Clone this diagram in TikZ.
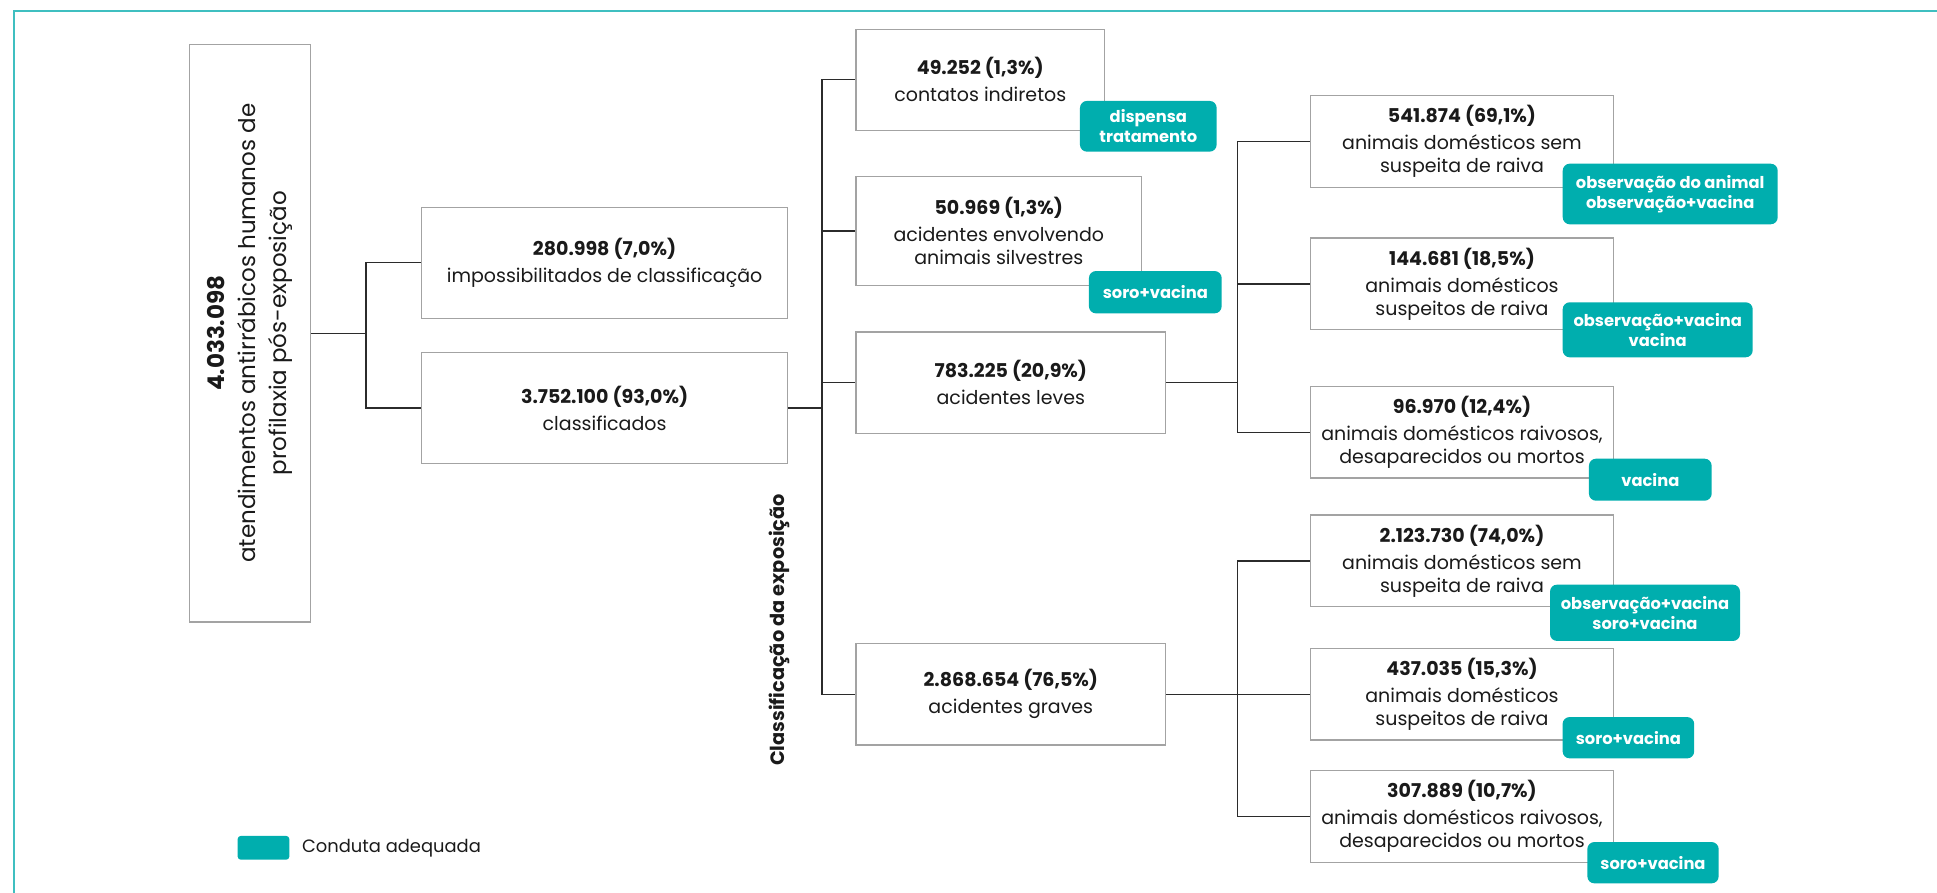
\documentclass[tikz,border=0pt]{standalone}
\usepackage{fontspec}
\setmainfont{Poppins}
\usetikzlibrary{positioning}

\definecolor{tealbadge}{HTML}{00AEAE}
\definecolor{tealframe}{HTML}{3FBFC0}
\definecolor{boxgray}{HTML}{A3A3A3}
\definecolor{linkgray}{HTML}{2B2B2B}
\definecolor{txtblack}{HTML}{1A1A1A}

\tikzset{
  catbox/.style={draw=boxgray, line width=1.4pt, fill=white, align=center,
    inner sep=2pt, text=txtblack, font={\fontsize{19}{23}\selectfont}},
  badge/.style={fill=tealbadge, rounded corners=7pt, text=white, align=center,
    inner sep=2pt, font={\bfseries\fontsize{16.3}{20}\selectfont}},
  link/.style={draw=linkgray, line width=1.4pt},
}

\begin{document}
\begin{tikzpicture}[x=1pt, y=-1pt]
  \useasboundingbox (0,0) rectangle (1937,893);
  % frame
  \draw[tealframe, line width=1.6pt] (13.7,893) -- (13.7,11) -- (1937,11);

  % root and first split
  \node[catbox, minimum width=121pt, minimum height=577.7pt] (root) at (250.2,333.2) {};
  \node[rotate=90, align=center, text=txtblack, font={\fontsize{23}{31}\selectfont}] (roottxt) at (root.center)
    {{\bfseries 4.033.098}\\ atendimentos antirrábicos humanos de\\ profilaxia pós-exposição};
  \node[catbox, minimum width=366.2pt, minimum height=111pt] (imp) at (604.6,262.8)
    {{\bfseries 280.998 (7,0\%)}\\[4pt] impossibilitados de classificação};
  \node[catbox, minimum width=366.2pt, minimum height=111pt] (cls) at (604.6,408)
    {{\bfseries 3.752.100 (93,0\%)}\\[4pt] classificados};

  % exposure classes
  \node[rotate=90, text=txtblack, font={\bfseries\fontsize{19.3}{23}\selectfont}] (expo) at (779,630)
    {Classificação da exposição};
  \node[catbox, minimum width=248.7pt, minimum height=101pt] (ind) at (980.3,79.8)
    {{\bfseries 49.252 (1,3\%)}\\[4pt] contatos indiretos};
  \node[catbox, minimum width=285.7pt, minimum height=108.6pt] (sil) at (998.8,231)
    {{\bfseries 50.969 (1,3\%)}\\[4pt] acidentes envolvendo\\ animais silvestres};
  \node[catbox, minimum width=309.7pt, minimum height=101.3pt] (lev) at (1010.8,382.7)
    {{\bfseries 783.225 (20,9\%)}\\[4pt] acidentes leves};
  \node[catbox, minimum width=309.7pt, minimum height=101.3pt] (grv) at (1010.8,694.3)
    {{\bfseries 2.868.654 (76,5\%)}\\[4pt] acidentes graves};

  % animals, light accidents
  \node[catbox, minimum width=302.7pt, minimum height=91.6pt] (r1) at (1462,141.5)
    {{\bfseries 541.874 (69,1\%)}\\[4pt] animais domésticos sem\\ suspeita de raiva};
  \node[catbox, minimum width=302.7pt, minimum height=91.6pt] (r2) at (1462,283.8)
    {{\bfseries 144.681 (18,5\%)}\\[4pt] animais domésticos\\ suspeitos de raiva};
  \node[catbox, minimum width=302.7pt, minimum height=91.6pt] (r3) at (1462,432.3)
    {{\bfseries 96.970 (12,4\%)}\\[4pt] animais domésticos raivosos,\\ desaparecidos ou mortos};

  % animals, severe accidents
  \node[catbox, minimum width=302.7pt, minimum height=91.6pt] (g1) at (1462,560.8)
    {{\bfseries 2.123.730 (74,0\%)}\\[4pt] animais domésticos sem\\ suspeita de raiva};
  \node[catbox, minimum width=302.7pt, minimum height=91.6pt] (g2) at (1462,694.3)
    {{\bfseries 437.035 (15,3\%)}\\[4pt] animais domésticos\\ suspeitos de raiva};
  \node[catbox, minimum width=302.7pt, minimum height=91.6pt] (g3) at (1462,816.5)
    {{\bfseries 307.889 (10,7\%)}\\[4pt] animais domésticos raivosos,\\ desaparecidos ou mortos};

  % connectors
  \coordinate (j1) at (366,333.2);
  \draw[link] (root.east) -- (j1);
  \draw[link] (j1) |- (imp.west);
  \draw[link] (j1) |- (cls.west);
  \coordinate (j2) at (822,408);
  \draw[link] (cls.east) -- (j2);
  \foreach \n in {ind,sil,lev,grv}
    \draw[link] (j2) |- (\n.west);
  \coordinate (j3) at (1237.7,382.7);
  \draw[link] (lev.east) -- (j3);
  \foreach \n in {r1,r2,r3}
    \draw[link] (j3) |- (\n.west);
  \coordinate (j4) at (1237.7,694.3);
  \draw[link] (grv.east) -- (j4);
  \foreach \n in {g1,g2,g3}
    \draw[link] (j4) |- (\n.west);

  % conduct badges
  \node[badge, minimum width=136.7pt, minimum height=50.7pt] (b1) at (1148.3,126.3) {dispensa\\ tratamento};
  \node[badge, minimum width=132.7pt, minimum height=42.3pt] (b2) at (1155.3,292.2) {soro+vacina};
  \node[badge, minimum width=215pt, minimum height=60.6pt] (b3) at (1670.2,194) {observação do animal\\ observação+vacina};
  \node[badge, minimum width=190pt, minimum height=55pt] (b4) at (1657.7,329.8) {observação+vacina\\ vacina};
  \node[badge, minimum width=122.7pt, minimum height=42pt] (b5) at (1650.3,479.7) {vacina};
  \node[badge, minimum width=190pt, minimum height=56.3pt] (b6) at (1645,612.8) {observação+vacina\\ soro+vacina};
  \node[badge, minimum width=131.6pt, minimum height=41.3pt] (b7) at (1628.4,737.7) {soro+vacina};
  \node[badge, minimum width=131.3pt, minimum height=41.3pt] (b8) at (1653,862.7) {soro+vacina};

  % legend
  \node[fill=tealbadge, rounded corners=3pt, minimum width=51.6pt, minimum height=23.7pt] (leg) at (263.5,847.8) {};
  \node[anchor=west, inner sep=0pt, text=txtblack, font={\fontsize{17.9}{21}\selectfont}] (legtxt) at ([xshift=12.4pt]leg.east) {Conduta adequada};
\end{tikzpicture}
\end{document}
